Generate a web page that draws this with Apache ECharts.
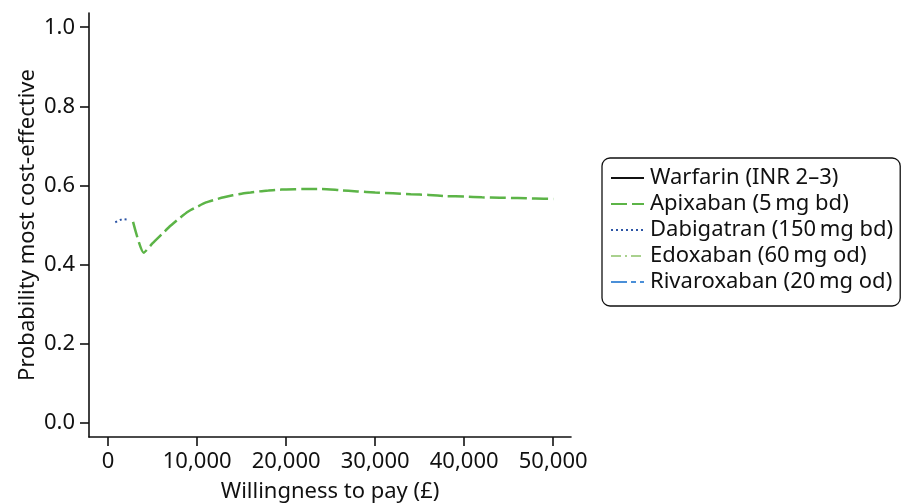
<!DOCTYPE html>
<html>
<head>
<meta charset="utf-8">
<script src="https://cdn.jsdelivr.net/npm/echarts@6/dist/echarts.min.js"></script>
<style>html,body{margin:0;padding:0;background:#fff}#c{width:909px;height:504px}</style>
</head>
<body>
<div id="c"></div>
<script>
var seriesNames = ['Warfarin (INR 2\u20133)', 'Apixaban (5\u2009mg bd)', 'Dabigatran (150\u2009mg bd)', 'Edoxaban (60\u2009mg od)', 'Rivaroxaban (20\u2009mg od)'];
var xTicks = [0, 10000, 20000, 30000, 40000, 50000];
var yTicks = [0, 0.2, 0.4, 0.6, 0.8, 1.0];

var warfarinX = [];
var warfarinY = [];
var apixabanX = [2800, 4000, 5000, 6000, 7000, 8000, 9000, 10000, 11000, 12000, 13000, 14000, 15000, 16000, 17000, 18000, 19000, 20000, 22000, 24000, 26000, 28000, 30000, 32000, 34000, 36000, 38000, 40000, 42000, 44000, 46000, 48000, 50000];
var apixabanY = [0.508, 0.430, 0.454, 0.476, 0.498, 0.517, 0.534, 0.546, 0.557, 0.564, 0.570, 0.575, 0.579, 0.582, 0.585, 0.587, 0.589, 0.590, 0.591, 0.591, 0.588, 0.585, 0.582, 0.580, 0.578, 0.576, 0.573, 0.572, 0.570, 0.569, 0.568, 0.567, 0.566];
var dabigatranX = [800, 1600, 2100];
var dabigatranY = [0.507, 0.515, 0.514];
var edoxabanX = [];
var edoxabanY = [];
var rivaroxabanX = [];
var rivaroxabanY = [];

function pairs(xs, ys) { return xs.map(function (x, i) { return [x, ys[i]]; }); }

var FONT = 'Noto Sans';
var TXT = '#111111';

var chart = echarts.init(document.getElementById('c'), null, { renderer: 'canvas' });
chart.setOption({
  animation: false,
  backgroundColor: '#fff',
  textStyle: { fontFamily: FONT, color: TXT },
  grid: { left: 89, right: 338, top: 13, bottom: 67, containLabel: false, outerBoundsMode: 'none' },
  legend: {
    orient: 'vertical',
    left: 602,
    top: 158,
    padding: [9, 7, 13, 8],
    itemGap: 4,
    itemWidth: 33,
    itemHeight: 12,
    borderColor: '#111',
    borderWidth: 1.3,
    borderRadius: 8,
    backgroundColor: '#fff',
    itemStyle: { color: 'rgba(0,0,0,0)', borderWidth: 0, borderColor: 'rgba(0,0,0,0)' },
    textStyle: { fontFamily: FONT, fontSize: 22, color: TXT, padding: [0, 0, 0, 1] },
    data: seriesNames
  },
  xAxis: {
    type: 'value',
    min: -2150,
    max: 52000,
    name: 'Willingness to pay (\u00a3)',
    nameLocation: 'middle',
    nameGap: 44,
    nameMoveOverlap: false,
    nameTextStyle: { fontFamily: FONT, fontSize: 22, color: TXT },
    axisLine: { onZero: false, lineStyle: { color: '#111', width: 1.6 } },
    axisTick: { show: true, length: 9, customValues: xTicks, lineStyle: { color: '#111', width: 1.6 } },
    axisLabel: {
      customValues: xTicks, fontFamily: FONT, fontSize: 22, color: TXT, margin: 14,
      formatter: function (v) { return v === 0 ? '0' : v.toLocaleString('en-US'); }
    },
    splitLine: { show: false }
  },
  yAxis: {
    type: 'value',
    min: -0.036,
    max: 1.036,
    name: 'Probability most cost-effective',
    nameLocation: 'middle',
    nameGap: 50,
    nameMoveOverlap: false,
    nameTextStyle: { fontFamily: FONT, fontSize: 22, color: TXT },
    axisLine: { onZero: false, lineStyle: { color: '#111', width: 1.6 } },
    axisTick: { show: true, length: 9, customValues: yTicks, lineStyle: { color: '#111', width: 1.6 } },
    axisLabel: {
      customValues: yTicks, fontFamily: FONT, fontSize: 22, color: TXT, margin: 14,
      formatter: function (v) { return v.toFixed(1); }
    },
    splitLine: { show: false }
  },
  series: [
    { name: seriesNames[0], type: 'line', showSymbol: false, symbol: 'none', data: pairs(warfarinX, warfarinY),
      lineStyle: { color: '#111111', width: 1.6, type: 'solid' }, itemStyle: { color: '#111111' } },
    { name: seriesNames[1], type: 'line', showSymbol: false, symbol: 'none', smooth: 0.2, data: pairs(apixabanX, apixabanY),
      lineStyle: { color: '#5cb447', width: 2.5, type: [16, 5] }, itemStyle: { color: '#5cb447' } },
    { name: seriesNames[2], type: 'line', showSymbol: false, symbol: 'none', data: pairs(dabigatranX, dabigatranY),
      lineStyle: { color: '#2d55a5', width: 2, type: [2, 3] }, itemStyle: { color: '#2d55a5' } },
    { name: seriesNames[3], type: 'line', showSymbol: false, symbol: 'none', data: pairs(edoxabanX, edoxabanY),
      lineStyle: { color: '#a9d18e', width: 2, type: [10, 4, 2, 4] }, itemStyle: { color: '#a9d18e' } },
    { name: seriesNames[4], type: 'line', showSymbol: false, symbol: 'none', data: pairs(rivaroxabanX, rivaroxabanY),
      lineStyle: { color: '#4a8fd8', width: 2, type: [16, 4, 5, 4] }, itemStyle: { color: '#4a8fd8' } }
  ]
});
</script>
</body>
</html>
